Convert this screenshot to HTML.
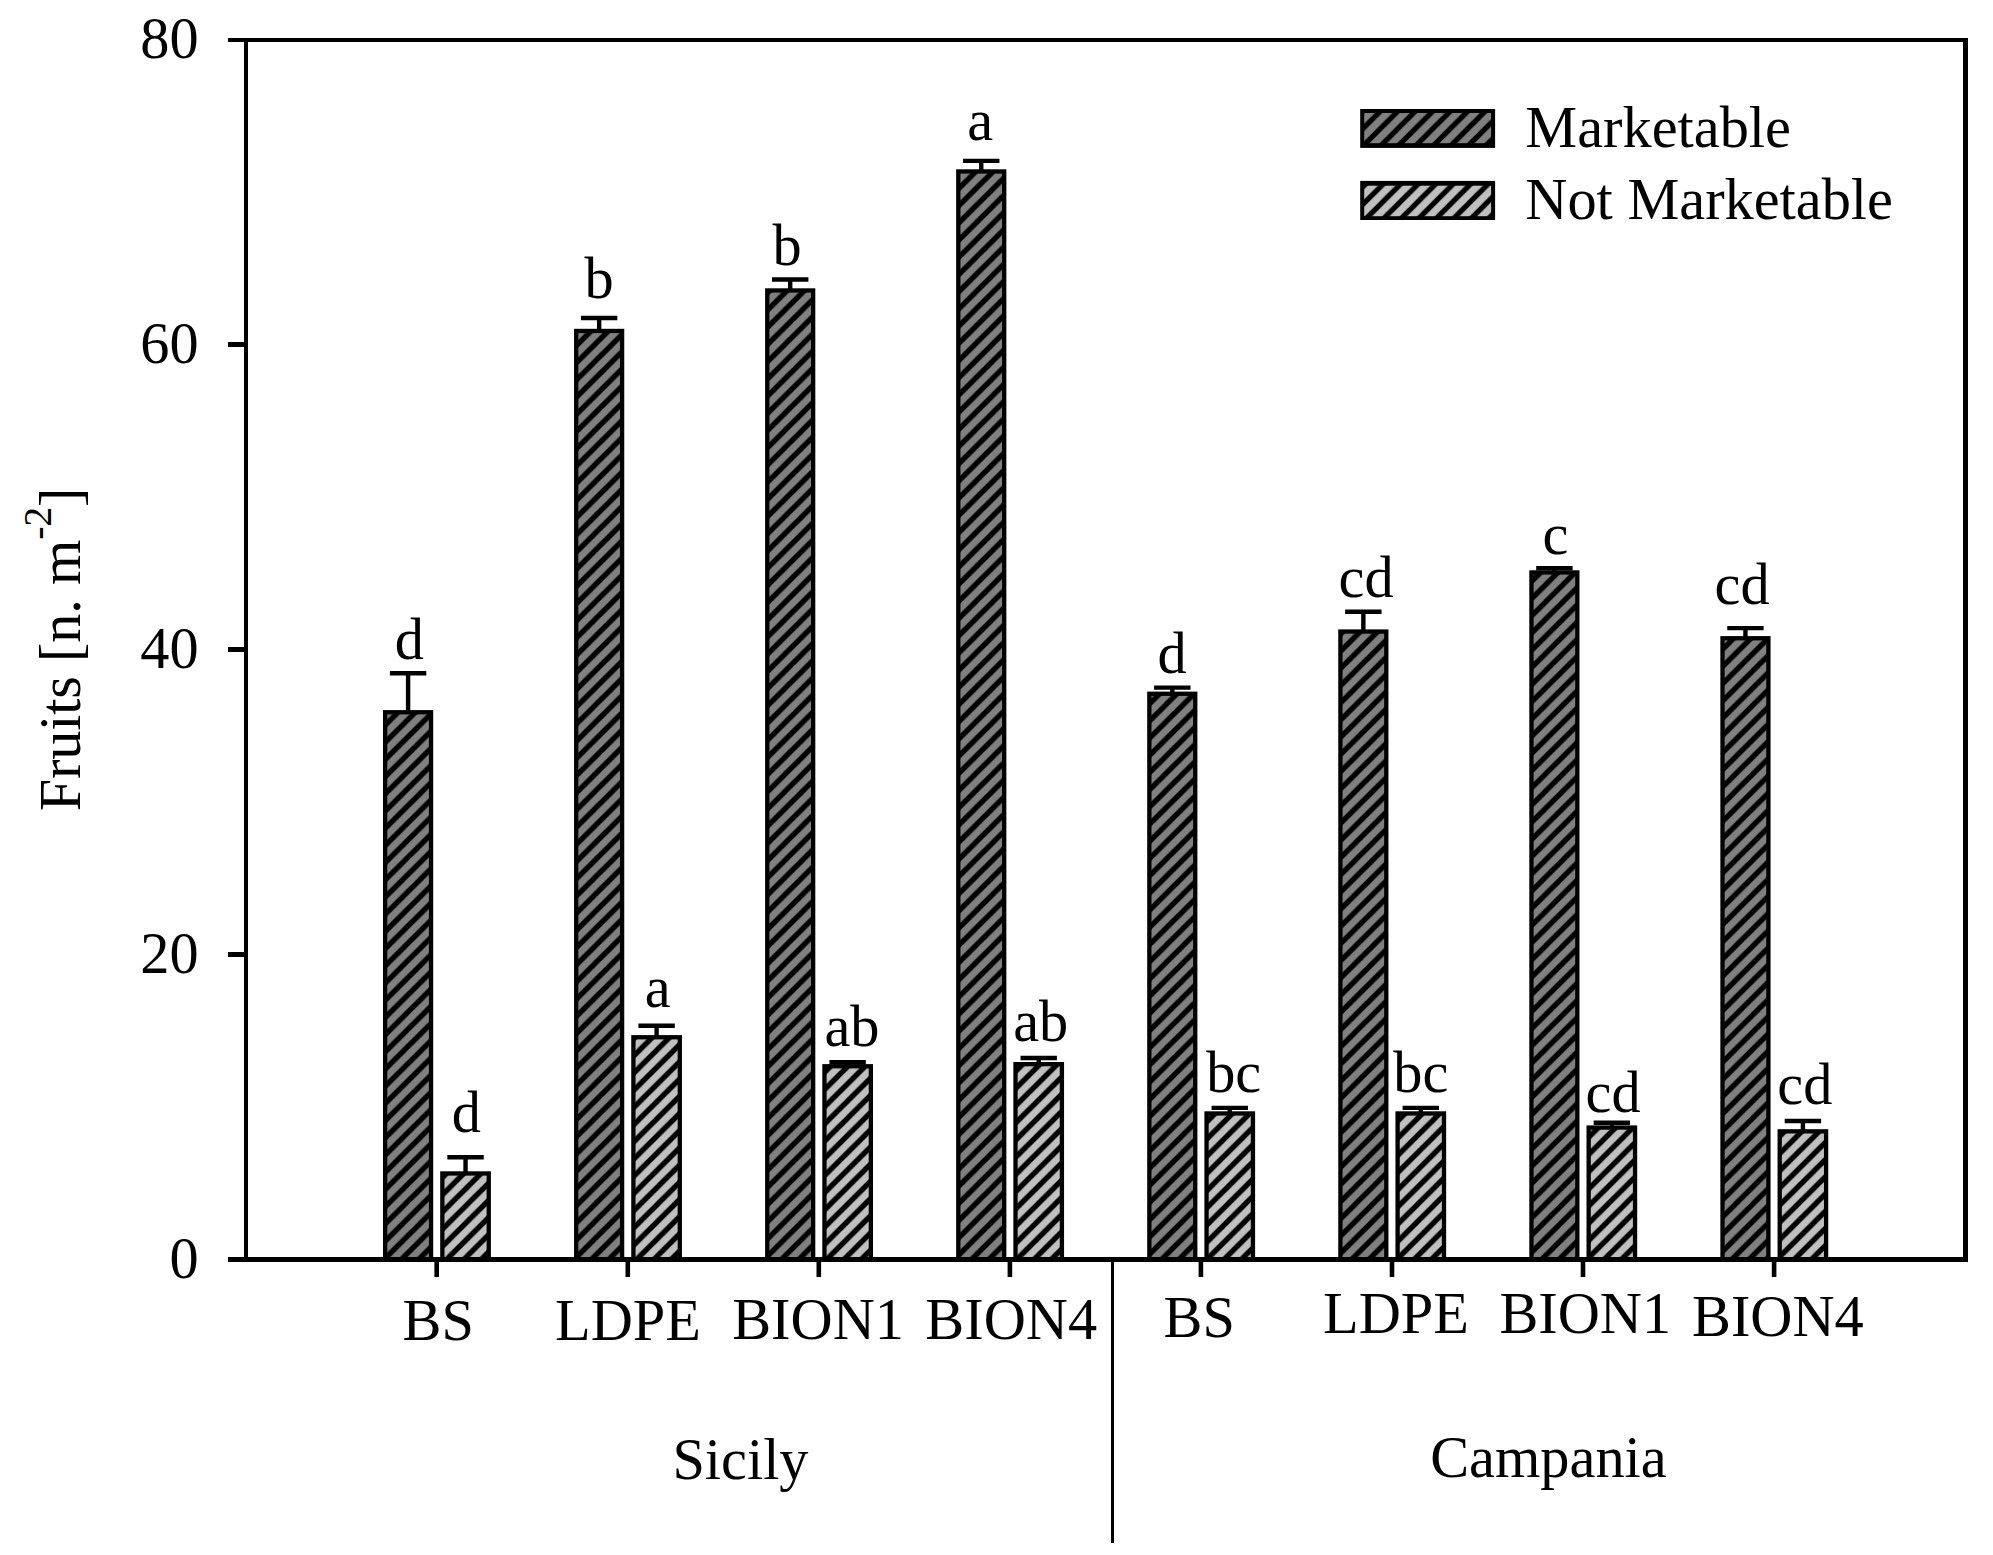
<!DOCTYPE html>
<html lang="en"><head><meta charset="utf-8"><title>Fruits chart</title>
<style>html,body{margin:0;padding:0;background:#fff}svg{display:block}text{font-family:"Liberation Serif",serif;font-size:58.33px;fill:#000}</style></head><body>
<svg width="1993" height="1555" viewBox="0 0 1993 1555">
<rect width="1993" height="1555" fill="#fff"/>
<defs><pattern id="hd" patternUnits="userSpaceOnUse" width="17.2" height="17.2" patternTransform="translate(7.835,0) scale(1.00452,1)"><rect width="17.2" height="17.2" fill="#808080"/><path d="M-8.6,8.6L8.6,-8.6M0,17.2L17.2,0M8.6,25.800L25.800,8.6" stroke="#000" stroke-width="5.3" fill="none"/></pattern><pattern id="hl" patternUnits="userSpaceOnUse" width="17.2" height="17.2" patternTransform="translate(1.205,0) scale(1.00452,1)"><rect width="17.2" height="17.2" fill="#c0c0c0"/><path d="M-8.6,8.6L8.6,-8.6M0,17.2L17.2,0M8.6,25.800L25.800,8.6" stroke="#000" stroke-width="5.3" fill="none"/></pattern><pattern id="hm" patternUnits="userSpaceOnUse" width="17.49" height="17.49" patternTransform="translate(4.900,0)"><rect width="17.49" height="17.49" fill="#808080"/><path d="M-8.745,8.745L8.745,-8.745M0,17.49L17.49,0M8.745,26.235L26.235,8.745" stroke="#000" stroke-width="5.3" fill="none"/></pattern><pattern id="hn" patternUnits="userSpaceOnUse" width="17.49" height="17.49" patternTransform="translate(10.600,0)"><rect width="17.49" height="17.49" fill="#c0c0c0"/><path d="M-8.745,8.745L8.745,-8.745M0,17.49L17.49,0M8.745,26.235L26.235,8.745" stroke="#000" stroke-width="5.3" fill="none"/></pattern></defs>
<rect x="383.00" y="710.10" width="50.20" height="547.90" fill="#000"/>
<rect x="387.30" y="714.40" width="41.60" height="544.60" fill="url(#hd)"/>
<rect x="440.20" y="1171.30" width="50.70" height="86.70" fill="#000"/>
<rect x="444.50" y="1175.60" width="42.10" height="83.40" fill="url(#hl)"/>
<path d="M389.90,673.30H426.30M408.10,673.30V712.10" stroke="#000" stroke-width="4.4" fill="none"/>
<path d="M447.35,1157.20H483.75M465.55,1157.20V1173.30" stroke="#000" stroke-width="4.4" fill="none"/>
<rect x="574.05" y="328.80" width="50.20" height="929.20" fill="#000"/>
<rect x="578.35" y="333.10" width="41.60" height="925.90" fill="url(#hd)"/>
<rect x="631.25" y="1035.10" width="50.70" height="222.90" fill="#000"/>
<rect x="635.55" y="1039.40" width="42.10" height="219.60" fill="url(#hl)"/>
<path d="M580.95,318.00H617.35M599.15,318.00V330.80" stroke="#000" stroke-width="4.4" fill="none"/>
<path d="M638.40,1025.70H674.80M656.60,1025.70V1037.10" stroke="#000" stroke-width="4.4" fill="none"/>
<rect x="765.10" y="288.30" width="50.20" height="969.70" fill="#000"/>
<rect x="769.40" y="292.60" width="41.60" height="966.40" fill="url(#hd)"/>
<rect x="822.30" y="1064.10" width="50.70" height="193.90" fill="#000"/>
<rect x="826.60" y="1068.40" width="42.10" height="190.60" fill="url(#hl)"/>
<path d="M772.00,279.50H808.40M790.20,279.50V290.30" stroke="#000" stroke-width="4.4" fill="none"/>
<path d="M829.45,1062.20H865.85M847.65,1062.20V1066.10" stroke="#000" stroke-width="4.4" fill="none"/>
<rect x="956.15" y="169.30" width="50.20" height="1088.70" fill="#000"/>
<rect x="960.45" y="173.60" width="41.60" height="1085.40" fill="url(#hd)"/>
<rect x="1013.35" y="1062.00" width="50.70" height="196.00" fill="#000"/>
<rect x="1017.65" y="1066.30" width="42.10" height="192.70" fill="url(#hl)"/>
<path d="M963.05,160.90H999.45M981.25,160.90V171.30" stroke="#000" stroke-width="4.4" fill="none"/>
<path d="M1020.50,1058.00H1056.90M1038.70,1058.00V1064.00" stroke="#000" stroke-width="4.4" fill="none"/>
<rect x="1147.20" y="691.60" width="50.20" height="566.40" fill="#000"/>
<rect x="1151.50" y="695.90" width="41.60" height="563.10" fill="url(#hd)"/>
<rect x="1204.40" y="1111.30" width="50.70" height="146.70" fill="#000"/>
<rect x="1208.70" y="1115.60" width="42.10" height="143.40" fill="url(#hl)"/>
<path d="M1154.10,687.60H1190.50M1172.30,687.60V693.60" stroke="#000" stroke-width="4.4" fill="none"/>
<path d="M1211.55,1107.90H1247.95M1229.75,1107.90V1113.30" stroke="#000" stroke-width="4.4" fill="none"/>
<rect x="1338.25" y="629.40" width="50.20" height="628.60" fill="#000"/>
<rect x="1342.55" y="633.70" width="41.60" height="625.30" fill="url(#hd)"/>
<rect x="1395.45" y="1111.30" width="50.70" height="146.70" fill="#000"/>
<rect x="1399.75" y="1115.60" width="42.10" height="143.40" fill="url(#hl)"/>
<path d="M1345.15,611.70H1381.55M1363.35,611.70V631.40" stroke="#000" stroke-width="4.4" fill="none"/>
<path d="M1402.60,1107.90H1439.00M1420.80,1107.90V1113.30" stroke="#000" stroke-width="4.4" fill="none"/>
<rect x="1529.30" y="570.30" width="50.20" height="687.70" fill="#000"/>
<rect x="1533.60" y="574.60" width="41.60" height="684.40" fill="url(#hd)"/>
<rect x="1586.50" y="1125.40" width="50.70" height="132.60" fill="#000"/>
<rect x="1590.80" y="1129.70" width="42.10" height="129.30" fill="url(#hl)"/>
<path d="M1536.20,568.30H1572.60M1554.40,568.30V572.30" stroke="#000" stroke-width="4.4" fill="none"/>
<path d="M1593.65,1122.80H1630.05M1611.85,1122.80V1127.40" stroke="#000" stroke-width="4.4" fill="none"/>
<rect x="1720.35" y="636.10" width="50.20" height="621.90" fill="#000"/>
<rect x="1724.65" y="640.40" width="41.60" height="618.60" fill="url(#hd)"/>
<rect x="1777.55" y="1129.20" width="50.70" height="128.80" fill="#000"/>
<rect x="1781.85" y="1133.50" width="42.10" height="125.50" fill="url(#hl)"/>
<path d="M1727.25,628.10H1763.65M1745.45,628.10V638.10" stroke="#000" stroke-width="4.4" fill="none"/>
<path d="M1784.70,1121.00H1821.10M1802.90,1121.00V1131.20" stroke="#000" stroke-width="4.4" fill="none"/>
<rect x="1360.20" y="109.00" width="134.90" height="38.90" fill="#000"/>
<rect x="1364.20" y="113.00" width="126.90" height="30.20" fill="url(#hm)"/>
<rect x="1360.20" y="180.90" width="134.90" height="39.10" fill="#000"/>
<rect x="1364.20" y="185.70" width="126.90" height="30.50" fill="url(#hn)"/>
<path d="M228,38H1968V1262H228V1257H1963V42H248V1257H244V42H228Z" fill="#000"/>
<path d="M228,342h18v5h-18zM228,647h18v5h-18zM228,952h18v5h-18zM434.4,1260v17h4.6v-17zM625.5,1260v17h4.6v-17zM816.5,1260v17h4.6v-17zM1007.6,1260v17h4.6v-17zM1198.6,1260v17h4.6v-17zM1389.7,1260v17h4.6v-17zM1580.7,1260v17h4.6v-17zM1771.8,1260v17h4.6v-17z" fill="#000"/>
<rect x="1111" y="1260" width="3" height="283" fill="#000"/>
<text x="394.69" y="658.90">d</text>
<text x="584.60" y="298.20">b</text>
<text x="772.40" y="265.10">b</text>
<text x="967.15" y="139.70">a</text>
<text x="1157.49" y="673.00">d</text>
<text x="1338.58" y="596.80">cd</text>
<text x="1542.38" y="553.80">c</text>
<text x="1714.58" y="603.90">cd</text>
<text x="451.79" y="1131.50">d</text>
<text x="644.85" y="1007.20">a</text>
<text x="824.45" y="1046.10">ab</text>
<text x="1013.15" y="1041.00">ab</text>
<text x="1206.20" y="1091.80">bc</text>
<text x="1393.30" y="1091.80">bc</text>
<text x="1585.58" y="1111.50">cd</text>
<text x="1777.28" y="1103.80">cd</text>
<text x="402.52" y="1339.70">BS</text>
<text x="555.02" y="1339.70">LDPE</text>
<text x="732.22" y="1338.80">BION1</text>
<text x="925.32" y="1339.10">BION4</text>
<text x="1163.52" y="1336.60">BS</text>
<text x="1323.12" y="1333.30">LDPE</text>
<text x="1499.42" y="1333.00">BION1</text>
<text x="1692.02" y="1336.40">BION4</text>
<text x="672.40" y="1478.80">Sicily</text>
<text x="1430.21" y="1476.50">Campania</text>
<text x="1525.32" y="146.80">Marketable</text>
<text x="1525.32" y="219.00">Not Marketable</text>
<text x="198.6" y="58.40" text-anchor="end">80</text>
<text x="198.6" y="363.27" text-anchor="end">60</text>
<text x="198.6" y="668.15" text-anchor="end">40</text>
<text x="198.6" y="973.02" text-anchor="end">20</text>
<text x="198.6" y="1277.90" text-anchor="end">0</text>
<text transform="translate(79.8,811.3) rotate(-90)" letter-spacing="-0.2">Fruits [n. m<tspan dy="-28.9" font-size="40">-2</tspan><tspan dy="28.9">]</tspan></text>
</svg></body></html>
